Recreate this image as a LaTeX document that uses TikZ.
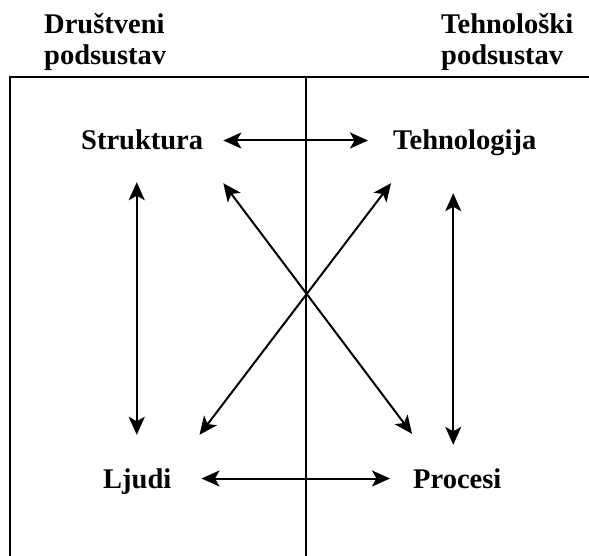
\documentclass[tikz,border=0pt]{standalone}
\usepackage{fontspec}
\setmainfont{Liberation Serif}
\usetikzlibrary{arrows.meta}
\begin{document}
\begin{tikzpicture}[x=1pt,y=-1pt,
  lbl/.style={font=\fontsize{28.5}{30}\selectfont\bfseries, inner sep=0pt, anchor=base west},
  box/.style={lbl, text height=19pt, text depth=0pt},
  arr/.style={{Stealth[length=18pt,width=16pt,inset=4.5pt]}-{Stealth[length=18pt,width=16pt,inset=4.5pt]}, line width=2pt},
  frame/.style={line width=2pt}]
\useasboundingbox (0,0) rectangle (589,556);
\draw[frame] (10,556) -- (10,77) -- (589,77);
\draw[frame] (306,77) -- (306,556);
\node[lbl, align=left] (ds) at (44,65) {Društveni\\[1pt]podsustav};
\node[lbl, align=left] (ts) at (441,65) {Tehnološki\\[1pt]podsustav};
\node[box] (S) at (81,150) {Struktura};
\node[box] (T) at (393,150) {Tehnologija};
\node[box] (L) at (103,488) {Ljudi};
\node[box] (P) at (413,488) {Procesi};
% horizontal
\draw[arr] ([xshift=20pt]S.east) -- ([xshift=-25pt]T.west);
\draw[arr] ([xshift=30pt]L.east) -- ([xshift=-23pt]P.west);
% vertical
\draw[arr] ([xshift=-0.5pt,yshift=-32pt]S.south -| L.center) -- ([xshift=-0.5pt,yshift=34pt]L.north);
\draw[arr] ([xshift=-4pt,yshift=-43pt]T.south -| P.center) -- ([xshift=-4pt,yshift=24pt]P.north);
% diagonals
\draw[arr] ([xshift=20pt,yshift=-33pt]S.south east) -- ([xshift=-1pt,yshift=35pt]P.north west);
\draw[arr] ([xshift=-2pt,yshift=-33pt]T.south west) -- ([xshift=28pt,yshift=34pt]L.north east);
\end{tikzpicture}
\end{document}
